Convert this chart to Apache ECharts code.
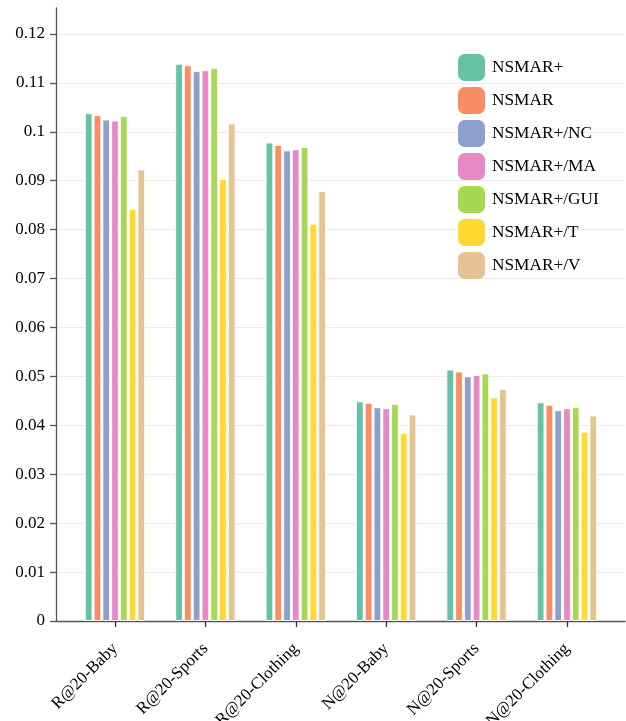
<!DOCTYPE html>
<html>
<head>
<meta charset="utf-8">
<script src="https://cdn.jsdelivr.net/npm/echarts@6/dist/echarts.min.js"></script>
<style>html,body{margin:0;padding:0;background:#fff;}#c{width:626px;height:721px;}</style>
</head>
<body>
<div id="c"></div>
<script>
const categories = ['R@20-Baby', 'R@20-Sports', 'R@20-Clothing', 'N@20-Baby', 'N@20-Sports', 'N@20-Clothing'];
const seriesNames = ['NSMAR+', 'NSMAR', 'NSMAR+/NC', 'NSMAR+/MA', 'NSMAR+/GUI', 'NSMAR+/T', 'NSMAR+/V'];
const nsmarPlus   = [0.1038, 0.1139, 0.0978, 0.0449, 0.0514, 0.0447];
const nsmar       = [0.1034, 0.1136, 0.0973, 0.0446, 0.0510, 0.0442];
const nsmarNC     = [0.1025, 0.1124, 0.0962, 0.0437, 0.0500, 0.0431];
const nsmarMA     = [0.1023, 0.1126, 0.0964, 0.0435, 0.0503, 0.0435];
const nsmarGUI    = [0.1032, 0.1130, 0.0969, 0.0444, 0.0506, 0.0437];
const nsmarT      = [0.0842, 0.0904, 0.0812, 0.0384, 0.0457, 0.0387];
const nsmarV      = [0.0923, 0.1017, 0.0879, 0.0422, 0.0474, 0.0420];
const yTicks = [0, 0.01, 0.02, 0.03, 0.04, 0.05, 0.06, 0.07, 0.08, 0.09, 0.1, 0.11, 0.12];
const colors = ['#66c2a5', '#fc8d62', '#8da0cb', '#e78ac3', '#a6d854', '#ffd92f', '#e5c494'];
const allValues = [nsmarPlus, nsmar, nsmarNC, nsmarMA, nsmarGUI, nsmarT, nsmarV];
const catIdx = categories.map((c, i) => i);

const font = '"Liberation Serif", "DejaVu Serif", serif';
const chart = echarts.init(document.getElementById('c'));
chart.setOption({
  animation: false,
  color: colors,
  grid: { left: 56, right: 1, top: 8, bottom: 100, containLabel: false, outerBoundsMode: 'none' },
  legend: {
    orient: 'vertical',
    left: 458,
    top: 54,
    padding: 0,
    itemWidth: 27,
    itemHeight: 27,
    itemGap: 6,
    icon: 'roundRect',
    itemStyle: { borderWidth: 0 },
    textStyle: { fontFamily: font, fontSize: 17.3, color: '#000', padding: [0, 0, 0, 2] },
    data: seriesNames
  },
  xAxis: {
    type: 'value',
    min: -0.6527,
    max: 5.642,
    axisLine: { show: true, onZero: false, lineStyle: { color: '#555', width: 1.3 } },
    axisTick: { show: true, customValues: catIdx, length: 6, lineStyle: { color: '#333', width: 1.3 } },
    axisLabel: {
      customValues: catIdx,
      rotate: 45,
      margin: 25,
      fontFamily: font,
      fontSize: 17,
      color: '#000',
      formatter: v => categories[Math.round(v)]
    },
    splitLine: { show: false }
  },
  yAxis: {
    type: 'value',
    min: 0,
    max: 0.1253,
    axisLine: { show: true, onZero: false, lineStyle: { color: '#555', width: 1.3 } },
    axisTick: { show: true, customValues: yTicks, length: 6, lineStyle: { color: '#555', width: 1.3 } },
    axisLabel: {
      customValues: yTicks,
      margin: 11,
      fontFamily: font,
      fontSize: 17,
      color: '#000',
      formatter: v => String(Math.round(v * 100) / 100)
    },
    splitLine: { show: true, lineStyle: { color: '#ebebeb', width: 1.2 } }
  },
  series: seriesNames.map((name, k) => ({
    name: name,
    type: 'bar',
    barWidth: 7.7,
    barGap: '14%',
    itemStyle: { color: colors[k], borderColor: 'rgba(255,255,255,0.85)', borderWidth: 1 },
    data: allValues[k].map((v, i) => [catIdx[i], v])
  }))
});
</script>
</body>
</html>
